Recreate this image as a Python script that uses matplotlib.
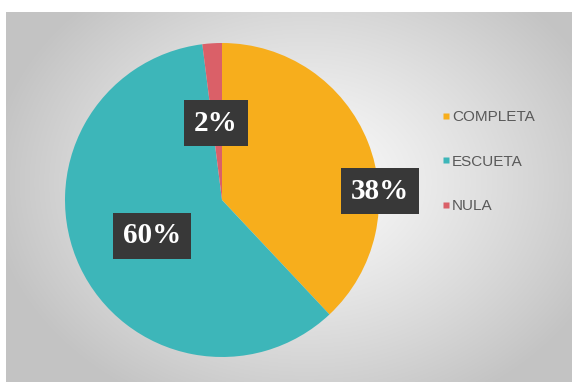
import numpy as np
import matplotlib
matplotlib.use("Agg")
import matplotlib.pyplot as plt
from matplotlib.lines import Line2D

categories = ["COMPLETA", "ESCUETA", "NULA"]
values = [38, 60, 2]
labels = ["38%", "60%", "2%"]
colors = ["#F7AE1C", "#3DB6B9", "#DA6068"]

W, H = 572, 382
fig = plt.figure(figsize=(W / 100, H / 100), dpi=100, facecolor="white")

# background panel with radial gradient
bg = fig.add_axes([6 / W, 0, (W - 6) / W, 370 / H])
bg.set_axis_off()
yy, xx = np.mgrid[0:370, 0:566]
cx, cy = 300, 170
d = np.sqrt(((xx - cx) / 320.0) ** 2 + ((yy - cy) / 250.0) ** 2)
d = np.clip(d, 0, 1)
val = 0.985 - 0.22 * d ** 1.2
img = np.dstack([val, val, val])
bg.imshow(img, aspect="auto", interpolation="bilinear")

# pie in pixel coordinates
ax = fig.add_axes([0, 0, 1, 1])
center = (222, H - 200)
radius = 157
wedges, _ = ax.pie(values, colors=colors, startangle=90, counterclock=False,
                   center=center, radius=radius, frame=True,
                   wedgeprops=dict(linewidth=0))
ax.set_xlim(0, W)
ax.set_ylim(0, H)
ax.set_aspect("equal")
ax.set_axis_off()

# label offsets (in radius units from center)
offsets = [(1.006, 0.057), (-0.446, -0.229), (-0.04, 0.49)]
for lab, (ox, oy) in zip(labels, offsets):
    ax.text(center[0] + ox * radius, center[1] + oy * radius, lab,
            ha="center", va="center", color="white", fontsize=21,
            fontweight="bold", family="Liberation Serif",
            bbox=dict(boxstyle="square,pad=0.34", fc="#383838", ec="none"))

handles = [Line2D([0], [0], marker="s", linestyle="none", markersize=5,
                  markerfacecolor=c, markeredgecolor="none") for c in colors]
leg = fig.legend(handles, categories, loc="upper left",
                 bbox_to_anchor=(436 / W, 1 - 104 / H), frameon=False,
                 prop=dict(family="Liberation Sans", size=11),
                 handlelength=0.5, handletextpad=0.15, labelspacing=2.0,
                 borderaxespad=0)
for t in leg.get_texts():
    t.set_color("#595959")

fig.savefig("out.png", dpi=100, facecolor="white")
